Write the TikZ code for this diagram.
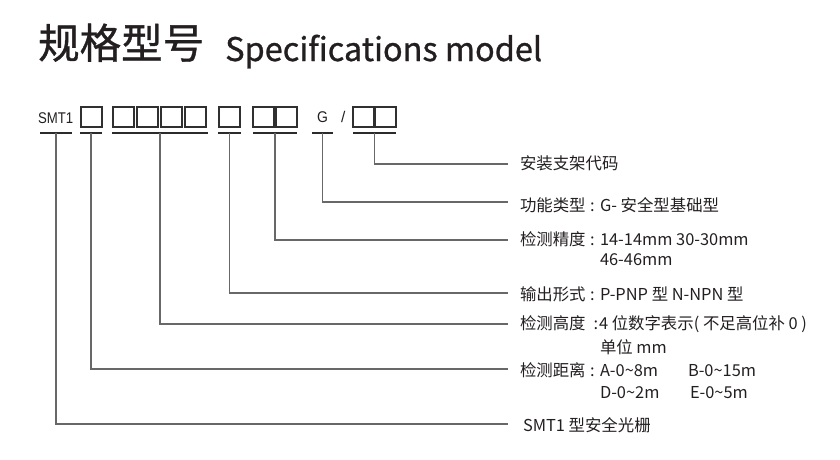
\documentclass[tikz,border=0pt]{standalone}
\usepackage{fontspec}
\setmainfont{Noto Sans CJK SC}
\newfontfamily\titlefont[FakeBold=0.9]{Noto Sans CJK SC}
\newfontfamily\arialf{Liberation Sans}
\definecolor{txt}{HTML}{231F20}
\definecolor{boxc}{HTML}{303030}
\definecolor{ulc}{HTML}{2B2B2B}
\definecolor{lnc}{HTML}{686868}
\begin{document}
\begin{tikzpicture}[x=1pt,y=-1pt,
  cell/.style={draw=boxc, line width=1.8pt, minimum width=21pt, minimum height=20pt, inner sep=0pt, outer sep=0pt, anchor=north west},
  ul/.style={draw=ulc, line width=2pt},
  conn/.style={draw=lnc, line width=1.3pt},
  lab/.style={anchor=base west, inner sep=0pt, outer sep=0pt, text=txt, font=\fontsize{16.4}{16.4}\selectfont},
  hdr/.style={anchor=base west, inner sep=0pt, outer sep=0pt, text=txt, font=\arialf\fontsize{15.5}{15.5}\selectfont}]
\useasboundingbox (0,0) rectangle (840,460);
% title
\node[anchor=base west, inner sep=0pt, text=txt, font=\titlefont\fontsize{41.5}{41.5}\selectfont] (title) at (38,58.5) {规格型号};
\node[anchor=base west, inner sep=0pt, text=txt, font=\titlefont\fontsize{32.5}{32.5}\selectfont] (titleen) at (225,61) {Specifications model};
% header
\node[hdr] (smt) at (38,123) {\scalebox{0.85}[1]{SMT1}};
\node[cell] (b1) at (81,107) {};
\node[cell] (b2) at (113,107) {};
\node[cell] (b3) at (137,107) {};
\node[cell] (b4) at (161,107) {};
\node[cell] (b5) at (185,107) {};
\node[cell] (b6) at (219,107) {};
\node[cell] (b7) at (253,107) {};
\node[cell] (b8) at (276,107) {};
\node[hdr] (g) at (317,122) {\scalebox{0.9}[1]{G}};
\node[hdr] (sl) at (341,122) {/};
\node[cell] (b9) at (353,107) {};
\node[cell] (b10) at (375,107) {};
% taps (midpoints of underlines)
\coordinate (t1) at (56,133);
\coordinate (t2) at (91,133);
\coordinate (t3) at (160,133);
\coordinate (t4) at (229.5,133);
\coordinate (t5) at (275,133);
\coordinate (t6) at (322.5,133);
\coordinate (t7) at (374.5,133);
\draw[ul] ([xshift=-16pt]t1) -- ([xshift=16pt]t1);
\draw[ul] ([xshift=-11pt]t2) -- ([xshift=11pt]t2);
\draw[ul] ([xshift=-48pt]t3) -- ([xshift=48pt]t3);
\draw[ul] ([xshift=-11.5pt]t4) -- ([xshift=11.5pt]t4);
\draw[ul] ([xshift=-22pt]t5) -- ([xshift=22pt]t5);
\draw[ul] ([xshift=-10.5pt]t6) -- ([xshift=10.5pt]t6);
\draw[ul] ([xshift=-21.5pt]t7) -- ([xshift=21.5pt]t7);
% line ends
\coordinate (e7) at (508,164);
\coordinate (e6) at (508,202);
\coordinate (e5) at (508,240);
\coordinate (e4) at (508,293);
\coordinate (e3) at (508,324);
\coordinate (e2) at (508,369);
\coordinate (e1) at (508,424);
\foreach \i in {1,...,7} {\draw[conn] (t\i) |- (e\i);}
% labels
\node[lab] (k7) at (520,169) {安装支架代码};
\node[lab] (k6) at (520,211) {功能类型};
\node[lab] (c6) at (590,211) {:};
\node[lab] (v6) at (600,211) {G- 安全型基础型};
\node[lab] (k5) at (520,245) {检测精度};
\node[lab] (c5) at (590,245) {:};
\node[lab] (v5) at (600,245) {14-14mm 30-30mm};
\node[lab] (w5) at (600,265) {46-46mm};
\node[lab] (k4) at (520,300) {输出形式};
\node[lab] (c4) at (590,300) {:};
\node[lab] (v4) at (600,300) {P-PNP 型 N-NPN 型};
\node[lab] (k3) at (520,329) {检测高度};
\node[lab] (c3) at (593.5,329) {:};
\node[lab] (v3) at (599,329) {4 位数字表示( 不足高位补 0 )};
\node[lab] (w3) at (600,353) {单位 mm};
\node[lab] (k2) at (520,376) {检测距离};
\node[lab] (c2) at (590,376) {:};
\node[lab] (v2) at (600,376) {A-0\textasciitilde 8m};
\node[lab] (x2) at (688,376) {B-0\textasciitilde 15m};
\node[lab] (w2) at (600,398) {D-0\textasciitilde 2m};
\node[lab] (y2) at (690,398) {E-0\textasciitilde 5m};
\node[lab] (k1) at (523,431) {SMT1 型安全光栅};
\end{tikzpicture}
\end{document}
